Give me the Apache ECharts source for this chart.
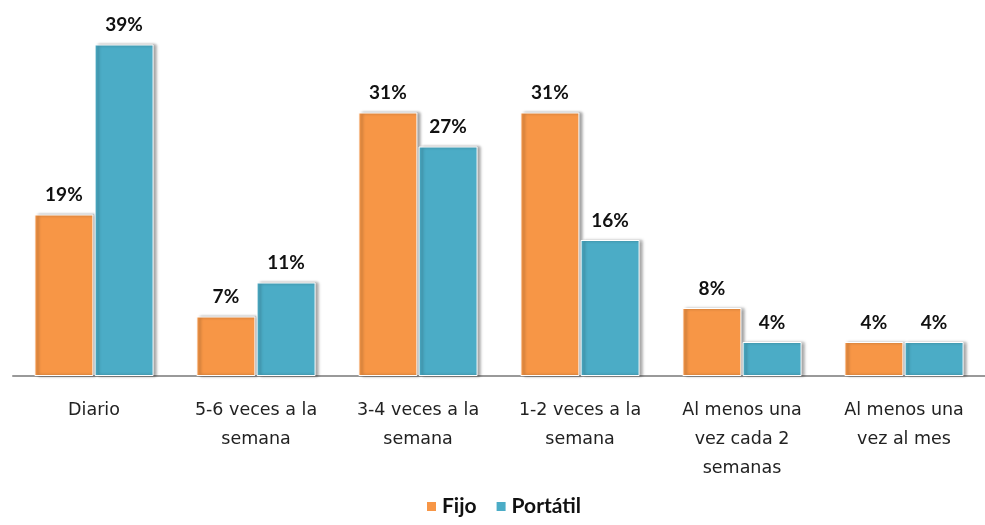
<!DOCTYPE html>
<html>
<head>
<meta charset="utf-8">
<script src="https://cdn.jsdelivr.net/npm/echarts@6/dist/echarts.min.js"></script>
<style>
html, body { margin: 0; padding: 0; background: #fff; }
#chart { width: 985px; height: 525px; }
</style>
</head>
<body>
<div id="chart"></div>
<script>
const categories = [
	"Diario",
	"5-6 veces a la\nsemana",
	"3-4 veces a la\nsemana",
	"1-2 veces a la\nsemana",
	"Al menos una\nvez cada 2\nsemanas",
	"Al menos una\nvez al mes"
]
const fijo = [19, 7, 31, 31, 8, 4]
const portatil = [39, 11, 27, 16, 4, 4]

const font = "Lato, 'Open Sans', sans-serif"

const chart = echarts.init(document.getElementById("chart"))

const barStyle = (color) => ({
	color: color,
	borderColor: "#fff",
	borderWidth: 1,
	shadowColor: "rgba(0,0,0,0.4)",
	shadowBlur: 3,
	shadowOffsetX: 3,
	shadowOffsetY: 0
})

const labelStyle = {
	show: true,
	position: "top",
	distance: 10,
	color: "#111",
	fontFamily: font,
	fontWeight: "bold",
	fontSize: 19,
	formatter: "{c}%"
}

chart.setOption({
	animation: false,
	grid: {
		left: 13,
		top: 36,
		width: 975,
		height: 340
	},
	legend: {
		bottom: 3,
		left: 420,
		itemWidth: 11,
		itemHeight: 11,
		itemGap: 18,
		icon: "rect",
		textStyle: {
			fontFamily: font,
			fontWeight: "bold",
			fontSize: 21,
			color: "#111"
		},
		data: ["Fijo", "Portátil"]
	},
	xAxis: {
		type: "category",
		data: categories,
		axisLine: { lineStyle: { color: "#999", width: 2 } },
		axisTick: { show: false },
		axisLabel: {
			interval: 0,
			margin: 20,
			color: "#222",
			fontFamily: "'DejaVu Sans', sans-serif",
			fontSize: 17.5,
			lineHeight: 29
		}
	},
	yAxis: {
		type: "value",
		min: 0,
		max: 40,
		show: false,
		splitLine: { show: false }
	},
	series: [
		{
			name: "Fijo",
			type: "bar",
			barWidth: 59,
			barGap: "2%",
			itemStyle: barStyle("#F79646"),
			label: labelStyle,
			data: fijo
		},
		{
			name: "Portátil",
			type: "bar",
			barWidth: 59,
			itemStyle: barStyle("#4BACC6"),
			label: labelStyle,
			data: portatil
		}
	]
})
</script>
</body>
</html>
